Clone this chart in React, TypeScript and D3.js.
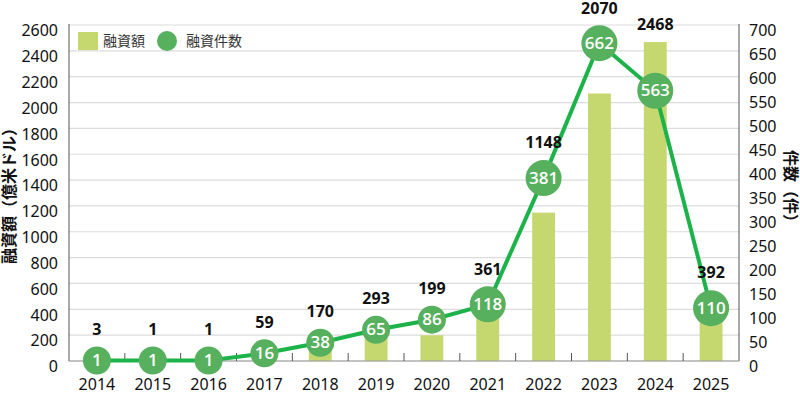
import React from "react";
import * as d3 from "d3";

const years = ["2014","2015","2016","2017","2018","2019","2020","2021","2022","2023","2024","2025"];
const amounts = [3, 1, 1, 59, 170, 293, 199, 361, 1148, 2070, 2468, 392];
const counts = [1, 1, 1, 16, 38, 65, 86, 118, 381, 662, 563, 110];
const leftTicks = d3.range(0, 2601, 200);
const rightTicks = d3.range(0, 701, 50);

const W = 800, H = 397;
const M = { left: 69, right: 739, top: 25, bottom: 361 };

const BAR = "#c5d870";
const DOT = "#57b05e";
const LINE = "#1db34a";
const AXISFONT = "'Noto Sans', 'Open Sans', sans-serif";
const NUMFONT = "'Open Sans', 'Noto Sans', sans-serif";
const JPFONT = "'Noto Sans CJK JP', sans-serif";

export default function App() {
  const x = d3.scaleBand().domain(years).range([M.left, M.right]).paddingInner(0).paddingOuter(0);
  const yL = d3.scaleLinear().domain([0, 2600]).range([M.bottom, M.top]);
  const yR = d3.scaleLinear().domain([0, 700]).range([M.bottom, M.top]);
  const bw = x.bandwidth() * 0.41;
  const cx = (y: string) => (x(y) as number) + x.bandwidth() / 2;
  const rad = (v: number) => (String(v).length >= 3 ? 18 : 14);
  const line = d3.line<number>().x((_, i) => cx(years[i])).y((d) => yR(d));

  return (
    <svg width={W} height={H} style={{ position: "absolute", left: 0, top: 0 }}>
      <rect width={W} height={H} fill="#fff" />
      {leftTicks.map((t) => (
        <line key={"g" + t} x1={M.left} x2={M.right} y1={yL(t)} y2={yL(t)} stroke="#dcdcdc" strokeWidth={1.2} />
      ))}
      {amounts.map((v, i) => (
        <rect key={"b" + i} x={cx(years[i]) - bw / 2} y={yL(v)} width={bw} height={M.bottom - yL(v)} fill={BAR} />
      ))}
      <line x1={M.left} x2={M.left} y1={M.top - 1} y2={M.bottom} stroke="#555" strokeWidth={1} />
      <line x1={M.right} x2={M.right} y1={M.top - 1} y2={M.bottom} stroke="#555" strokeWidth={1} />
      <line x1={M.left} x2={M.right} y1={M.bottom} y2={M.bottom} stroke="#999" strokeWidth={1} />
      {years.slice(1).map((y) => (
        <line key={"t" + y} x1={x(y) as number} x2={x(y) as number} y1={M.bottom} y2={M.bottom - 8} stroke="#555" strokeWidth={1} />
      ))}
      {leftTicks.map((t) => (
        <text key={"l" + t} x={58} y={yL(t) + 7} textAnchor="end" dominantBaseline="middle" fontFamily={AXISFONT} fontSize={16} fill="#111">{t}</text>
      ))}
      {rightTicks.map((t) => (
        <text key={"r" + t} x={749} y={yR(t) + 7} textAnchor="start" dominantBaseline="middle" fontFamily={AXISFONT} fontSize={16} fill="#111">{t}</text>
      ))}
      {years.map((y) => (
        <text key={"x" + y} x={cx(y)} y={386} textAnchor="middle" dominantBaseline="middle" fontFamily={AXISFONT} fontSize={16} fill="#111">{y}</text>
      ))}
      <text transform={`translate(11,192) rotate(-90)`} textAnchor="middle" dominantBaseline="middle" fontFamily={JPFONT} fontWeight="bold" fontSize={16} fill="#111">融資額（億米ドル）</text>
      <text transform={`translate(789,190) rotate(90)`} textAnchor="middle" dominantBaseline="middle" fontFamily={JPFONT} fontWeight="bold" fontSize={16} fill="#111">件数（件）</text>
      <path d={line(counts) as string} fill="none" stroke={LINE} strokeWidth={4} />
      {amounts.map((v, i) => {
        const top = Math.min(yL(v), yR(counts[i]) - rad(counts[i]));
        return (
          <text key={"a" + i} x={cx(years[i])} y={top - 16} textAnchor="middle" dominantBaseline="middle" fontFamily={NUMFONT} fontWeight="bold" fontSize={16} fill="#111">{v}</text>
        );
      })}
      {counts.map((v, i) => (
        <g key={"c" + i}>
          <circle cx={cx(years[i])} cy={yR(v)} r={rad(v)} fill={DOT} />
          <text x={cx(years[i])} y={yR(v) + 1} textAnchor="middle" dominantBaseline="middle" fontFamily={NUMFONT} fontWeight="600" fontSize={17} fill="#fff">{v}</text>
        </g>
      ))}
      <rect x={78} y={32} width={20} height={18} fill={BAR} />
      <text x={103} y={42} dominantBaseline="middle" fontFamily={JPFONT} fontSize={14} fill="#333">融資額</text>
      <circle cx={167} cy={41} r={10} fill={DOT} />
      <text x={186} y={42} dominantBaseline="middle" fontFamily={JPFONT} fontSize={14} fill="#333">融資件数</text>
    </svg>
  );
}
